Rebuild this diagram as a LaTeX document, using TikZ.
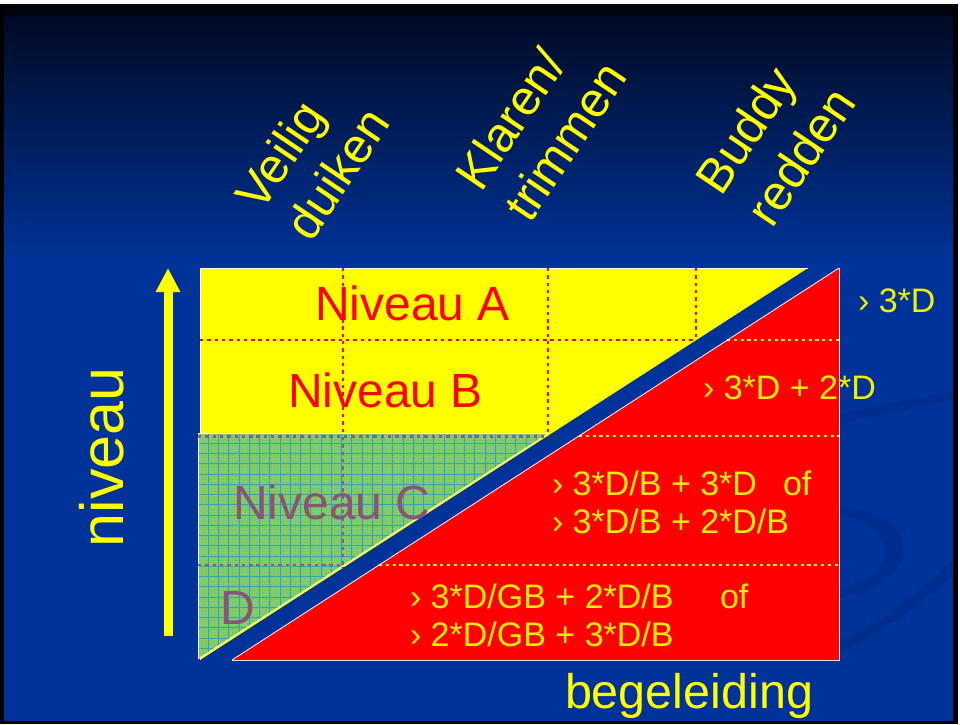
\documentclass[tikz,border=0pt]{standalone}
\usepackage{fontspec}
\setmainfont{Liberation Sans}
\usetikzlibrary{arrows.meta,patterns}
\definecolor{bgblue}{HTML}{003399}
\definecolor{topnavy}{HTML}{000A24}
\definecolor{topband}{HTML}{00040F}
\definecolor{swoosh}{HTML}{002E8E}
\definecolor{yel}{HTML}{FFFF00}
\definecolor{smallyel}{HTML}{F2F000}
\definecolor{grn}{HTML}{86CE6C}
\definecolor{grndark}{HTML}{6CB85A}
\definecolor{gridc}{HTML}{2CA2C4}
\definecolor{mauve}{HTML}{8C5474}
\definecolor{mauvedot}{HTML}{8A5E7E}
\begin{document}
\begin{tikzpicture}[x=1pt,y=-1pt,
  lbl/.style={inner sep=0pt, outer sep=0pt, anchor=base west},
  big/.style={lbl, font=\fontsize{48}{56}\selectfont},
  top/.style={lbl, text=yel, rotate=56, font=\fontsize{49}{56}\selectfont},
  small/.style={lbl, text=smallyel, font=\fontsize{34}{40}\selectfont},
  reddot/.style={draw=red, line width=2.6pt, dash pattern=on 3.4pt off 3.9pt},
  yeldot/.style={draw=smallyel, line width=2.6pt, dash pattern=on 3.2pt off 3.6pt},
  mdot/.style={draw=mauvedot, line width=2.6pt, dash pattern=on 3.4pt off 3.9pt},
  edge/.style={draw=white, line width=0.8pt}
]
\useasboundingbox (0,0) rectangle (960,724);
% slide background
\fill[white] (0,0) rectangle (960,724);
\fill[black] (0,4) rectangle (958,724);
\fill[bgblue] (4,16) rectangle (953,721);
\shade[top color=topnavy, bottom color=bgblue] (4,16) rectangle (953,262);
\fill[topband] (4,5) rectangle (953,16);
% decorative swooshes
\fill[swoosh] (840,414) .. controls (890,402) and (930,396) .. (953,392) -- (953,400) .. controls (930,404) and (890,412) .. (840,424) -- cycle;
\fill[swoosh] (840,505) .. controls (920,515) and (930,580) .. (840,598) -- (840,588) .. controls (905,575) and (895,525) .. (840,515) -- cycle;
\fill[swoosh] (840,640) .. controls (890,620) and (930,580) .. (953,560) -- (953,575) .. controls (930,595) and (890,632) .. (840,652) -- cycle;

% yellow triangle
\fill[yel] (200,268) -- (808,268) -- (200,660) -- cycle;
\draw[edge] (200,660) -- (200,268) -- (808,268);
% red dotted grid in yellow
\draw[reddot] (200,340) -- (696,340);
\draw[reddot] (343,268) -- (343,568);
\draw[reddot] (548,268) -- (548,436);
\draw[reddot] (696,268) -- (696,340);

% green region
\fill[grn] (198,433) -- (549,433) -- (198,659) -- cycle;
\fill[pattern=crosshatch dots, pattern color=grndark] (198,433) -- (549,433) -- (198,659) -- cycle;
\begin{scope}
  \clip (198,433) -- (549,433) -- (198,659) -- cycle;
  \foreach \i in {0,...,35} {
    \draw[gridc, line width=0.7pt] ({198+10.25*\i},433) -- ({198+10.25*\i},660);
  }
  \foreach \j in {0,...,22} {
    \draw[gridc, line width=0.7pt] (198,{433+10.25*\j}) -- (550,{433+10.25*\j});
  }
\end{scope}
\draw[edge] (198,659) -- (198,433) -- (549,433);
\draw[white, line width=0.6pt] (549,433) -- (198,659);
\draw[mdot] (198,436.5) -- (544,436.5);
\draw[mdot] (198,565) -- (343,565);
\draw[mdot] (343,437) -- (343,565);

% red triangle
\fill[red] (232,660) -- (839,660) -- (839,268) -- cycle;
\draw[yeldot] (727,340) -- (839,340);
\draw[yeldot] (579,436) -- (839,436);
\draw[yeldot] (379,565) -- (839,565);
\draw[white, line width=0.8pt] (232,660) -- (839,268);
\draw[draw=white!80!gray, line width=1pt] (839,268) -- (839,660) -- (232,660);

% level arrow
\coordinate (arrS) at (168,636);
\coordinate (arrE) at (168,268);
\draw[yel, line width=9pt, -{Triangle[width=23pt,length=24pt]}] (arrS) -- (arrE);

% texts
\node[big, text=red] (nA) at (315,320) {Niveau A};
\node[big, text=red] (nB) at (288,407) {Niveau B};
\node[big, text=mauve] (nC) at (233,519) {Niveau C};
\node[big, text=mauve] (nD) at (220,624) {D};

\node[small] (t1) at (858,312) {› 3*D};
\node[small] (t2) at (703,399) {› 3*D + 2*D};
\node[small] (t3) at (552,495) {› 3*D/B + 3*D};
\node[small] (t3of) at (783,495) {of};
\node[small] (t4) at (552,533) {› 3*D/B + 2*D/B};
\node[small] (t5) at (410,608) {› 3*D/GB + 2*D/B};
\node[small] (t5of) at (720,608) {of};
\node[small] (t6) at (410,646) {› 2*D/GB + 3*D/B};

\node[lbl, text=yel, font=\fontsize{48.5}{56}\selectfont] (beg) at (565,708) {begeleiding};
\node[lbl, text=yel, rotate=90, font=\fontsize{61}{70}\selectfont] (niv) at (123,547) {niveau};

\node[top] (h1a) at (261,213) {Veilig};
\node[top] (h1b) at (311,243) {duiken};
\node[top] (h2a) at (481,193) {Klaren/};
\node[top] (h2b) at (530,224) {trimmen};
\node[top] (h3a) at (721,197) {Buddy};
\node[top] (h3b) at (772,229) {redden};
\end{tikzpicture}
\end{document}
